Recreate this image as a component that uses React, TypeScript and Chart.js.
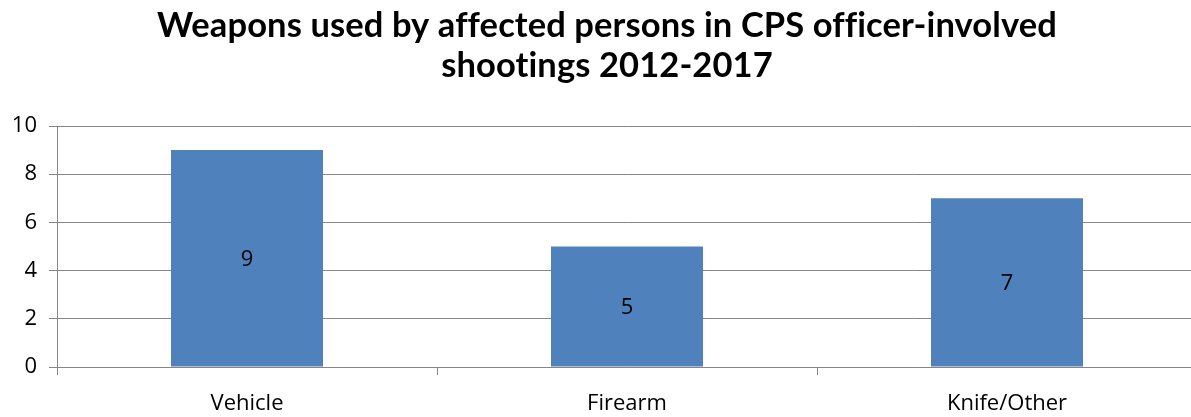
import React, { useEffect, useRef } from "react";
import { Chart, registerables } from "chart.js";

Chart.register(...registerables);

const TITLE_LINES = ["Weapons used by affected persons in CPS officer-involved", "shootings 2012-2017"];
const CATEGORIES = ["Vehicle", "Firearm", "Knife/Other"];
const VALUES = [9, 5, 7];
const Y_MIN = 0;
const Y_MAX = 10;
const Y_STEP = 2;

const BAR_COLOR = "#4F81BD";
const AXIS_COLOR = "#868686";
const LABEL_FONT = "'Open Sans', 'Liberation Sans', sans-serif";
const TITLE_FONT = "Lato, 'Open Sans', sans-serif";

const titlePlugin = {
  id: "twoLineTitle",
  afterDraw(chart: any) {
    const ctx = chart.ctx;
    ctx.save();
    ctx.font = `bold 34.5px ${TITLE_FONT}`;
    try {
      (ctx as any).letterSpacing = "0.1px";
    } catch (e) {}
    ctx.fillStyle = "#000000";
    ctx.textAlign = "center";
    ctx.textBaseline = "alphabetic";
    const cx = 607;
    TITLE_LINES.forEach((line, i) => {
      ctx.fillText(line, cx, 37 + i * 40);
    });
    ctx.restore();
  },
};

const dataLabelPlugin = {
  id: "dataLabels",
  afterDatasetsDraw(chart: any) {
    const ctx = chart.ctx;
    ctx.save();
    ctx.font = `22px ${LABEL_FONT}`;
    ctx.fillStyle = "#000000";
    ctx.textAlign = "center";
    ctx.textBaseline = "middle";
    chart.data.datasets.forEach((ds: any, di: number) => {
      const meta = chart.getDatasetMeta(di);
      meta.data.forEach((bar: any, i: number) => {
        const y = (bar.y + bar.base) / 2 + 1;
        ctx.fillText(String(ds.data[i]), bar.x, y);
      });
    });
    ctx.restore();
  },
};

export default function App() {
  const ref = useRef<HTMLCanvasElement | null>(null);

  useEffect(() => {
    if (!ref.current) return;
    const chart = new Chart(ref.current, {
      type: "bar",
      data: {
        labels: CATEGORIES,
        datasets: [
          {
            data: VALUES,
            backgroundColor: BAR_COLOR,
            borderWidth: 0,
            barPercentage: 0.4,
            categoryPercentage: 1,
          },
        ],
      },
      options: {
        responsive: false,
        animation: false,
        layout: { padding: { top: 126, left: 0, right: 0, bottom: 0 } },
        plugins: {
          legend: { display: false },
          tooltip: { enabled: false },
          title: { display: false },
        },
        scales: {
          x: {
            type: "category",
            offset: true,
            grid: {
              offset: true,
              drawOnChartArea: false,
              drawTicks: true,
              tickLength: 8,
              color: AXIS_COLOR,
            },
            border: { display: true, color: AXIS_COLOR, width: 1 },
            ticks: {
              color: "#000000",
              font: { family: LABEL_FONT, size: 22 },
              padding: 16,
            },
            afterFit(scale: any) {
              scale.height = 50;
            },
          },
          y: {
            min: Y_MIN,
            max: Y_MAX,
            ticks: {
              stepSize: Y_STEP,
              color: "#000000",
              font: { family: LABEL_FONT, size: 22 },
              padding: 12,
            },
            grid: {
              color: AXIS_COLOR,
              lineWidth: 1,
              tickLength: 8,
              drawTicks: true,
            },
            border: { display: true, color: AXIS_COLOR, width: 1 },
            afterFit(scale: any) {
              scale.width = 57;
            },
          },
        },
      },
      plugins: [dataLabelPlugin, titlePlugin],
    });
    return () => chart.destroy();
  }, []);

  return (
    <div
      style={{
        position: "fixed",
        left: 0,
        top: 0,
        width: 1191,
        height: 417,
        overflow: "hidden",
        background: "#ffffff",
      }}
    >
      <canvas ref={ref} width={1197} height={417} style={{ display: "block", width: 1197, height: 417 }} />
    </div>
  );
}
